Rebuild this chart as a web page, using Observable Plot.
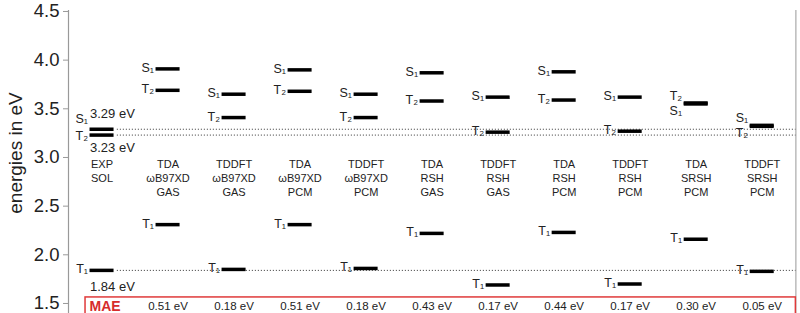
<!DOCTYPE html>
<html><head><meta charset="utf-8">
<script src="https://cdn.jsdelivr.net/npm/d3@7"></script>
<script src="https://cdn.jsdelivr.net/npm/@observablehq/plot@0.6"></script>
<style>
body{margin:0;background:#fff;}
#chart svg{font-family:"Liberation Sans",Arial,sans-serif;}
</style>
</head><body><div id="chart"></div>
<script>
// ---- data ----
const methods = [
  "EXP\nSOL",
  "TDA\nωB97XD\nGAS",
  "TDDFT\nωB97XD\nGAS",
  "TDA\nωB97XD\nPCM",
  "TDDFT\nωB97XD\nPCM",
  "TDA\nRSH\nGAS",
  "TDDFT\nRSH\nGAS",
  "TDA\nRSH\nPCM",
  "TDDFT\nRSH\nPCM",
  "TDA\nSRSH\nPCM",
  "TDDFT\nSRSH\nPCM"
];
const S1 = [3.29, 3.91, 3.65, 3.90, 3.65, 3.87, 3.62, 3.88, 3.62, 3.55, 3.33];
const T2 = [3.23, 3.69, 3.41, 3.68, 3.41, 3.58, 3.26, 3.59, 3.27, 3.56, 3.32];
const T1 = [1.84, 2.31, 1.85, 2.31, 1.86, 2.22, 1.69, 2.23, 1.70, 2.16, 1.83];
const maeLabel = "MAE";
const maeValues = ["", "0.51 eV", "0.18 eV", "0.51 eV", "0.18 eV", "0.43 eV", "0.17 eV", "0.44 eV", "0.17 eV", "0.30 eV", "0.05 eV"];
const expValueLabels = ["3.29 eV", "3.23 eV", "1.84 eV"];
const stateNames = ["S₁", "T₂", "T₁"];
const yTicks = [1.5, 2.0, 2.5, 3.0, 3.5, 4.0, 4.5];
const yLabel = "energies in eV";

// ---- build tables ----
const n = methods.length;
const idx = d3.range(n);
const series = [S1, T2, T1];
const states = [];
idx.forEach(i => {
  series.forEach((arr, k) => {
    states.push({i, name: stateNames[k], v: arr[i]});
  });
});
// label vertical nudges for nearly coincident S1/T2 pairs
states.forEach(d => {
  d.dy = -1;
  if (d.name === "T₁") return;
  const a = S1[d.i], b = T2[d.i];
  const diff = Math.abs(a - b);
  const isHigh = d.v === Math.max(a, b);
  if (diff < 0.03) d.dy = isHigh ? -7 : 7;
  else if (diff < 0.08) d.dy = isHigh ? -10 : 1;
});
const dyGroups = d3.groups(states, d => d.dy);
const expLines = [S1[0], T2[0], T1[0]];
const expOffsets = [-15, 13, 16];
const expText = expValueLabels.map((t, k) => ({t, v: expLines[k], dy: expOffsets[k]}));

const half = 0.182;
const xDom = [-0.508, 10.58];
const yDom = [1.397, 4.51];
const xRight = 10.51;
const boxTop = 1.562;

const chart = Plot.plot({
  width: 800,
  height: 313,
  marginLeft: 68,
  marginRight: 0,
  marginTop: 10,
  marginBottom: 0,
  style: {fontFamily: "Liberation Sans, Arial, sans-serif", background: "#fff", color: "#222"},
  x: {domain: xDom, axis: null},
  y: {domain: yDom},
  marks: [
    // y axis
    Plot.ruleX([xDom[0]], {stroke: "#999", strokeWidth: 1.2}),
    Plot.ruleX([xRight], {stroke: "#aaa", strokeWidth: 1.2}),
    Plot.axisY({
      ticks: yTicks, tickFormat: d3.format(".1f"), tickSize: 5, tickPadding: 4,
      fontSize: 18.5, stroke: "#999", fill: "#222", label: null
    }),
    Plot.text([yLabel], {frameAnchor: "left", textAnchor: "middle", text: d => d, rotate: -90, dx: -53, dy: -9, fontSize: 19, fill: "#222"}),
    // MAE box
    Plot.rect([0], {x1: -0.25, x2: xRight, y1: boxTop, y2: yDom[0] - 0.1, fill: "none", stroke: "#e03a3a", strokeWidth: 1.5}),
    // dotted reference lines from experiment
    Plot.ruleY(expLines, {x1: half + 0.05, x2: xRight, stroke: "#333", strokeWidth: 1, strokeDasharray: "1,2"}),
    // energy levels
    Plot.ruleY(states, {y: "v", x1: d => d.i - half, x2: d => d.i + half, stroke: "#000", strokeWidth: 3.5}),
    // state labels
    ...dyGroups.map(([dy, g]) => Plot.text(g, {x: d => d.i - half, y: "v", text: "name", dx: -2, dy, textAnchor: "end", fontSize: 12.5, fill: "#222"})),
    // experiment value labels
    ...expText.map(d => Plot.text([d], {x: -half, y: "v", text: "t", dy: d.dy, textAnchor: "start", fontSize: 13, fill: "#222"})),
    // method labels
    Plot.text(idx, {x: d => d, y: 3.0, text: d => methods[d], lineAnchor: "top", lineHeight: 1.25, fontSize: 11, fill: "#222", dy: 1}),
    // MAE row
    Plot.text([maeLabel], {x: -0.25, y: 1.5, text: d => d, dx: 4, dy: 3, textAnchor: "start", fontSize: 14, fontWeight: "bold", fill: "#d62c2c"}),
    Plot.text(idx.filter(i => maeValues[i]), {x: d => d, y: 1.5, text: d => maeValues[d], dy: 3, fontSize: 11.5, fill: "#222"})
  ]
});
document.getElementById("chart").appendChild(chart);
</script>
</body></html>
